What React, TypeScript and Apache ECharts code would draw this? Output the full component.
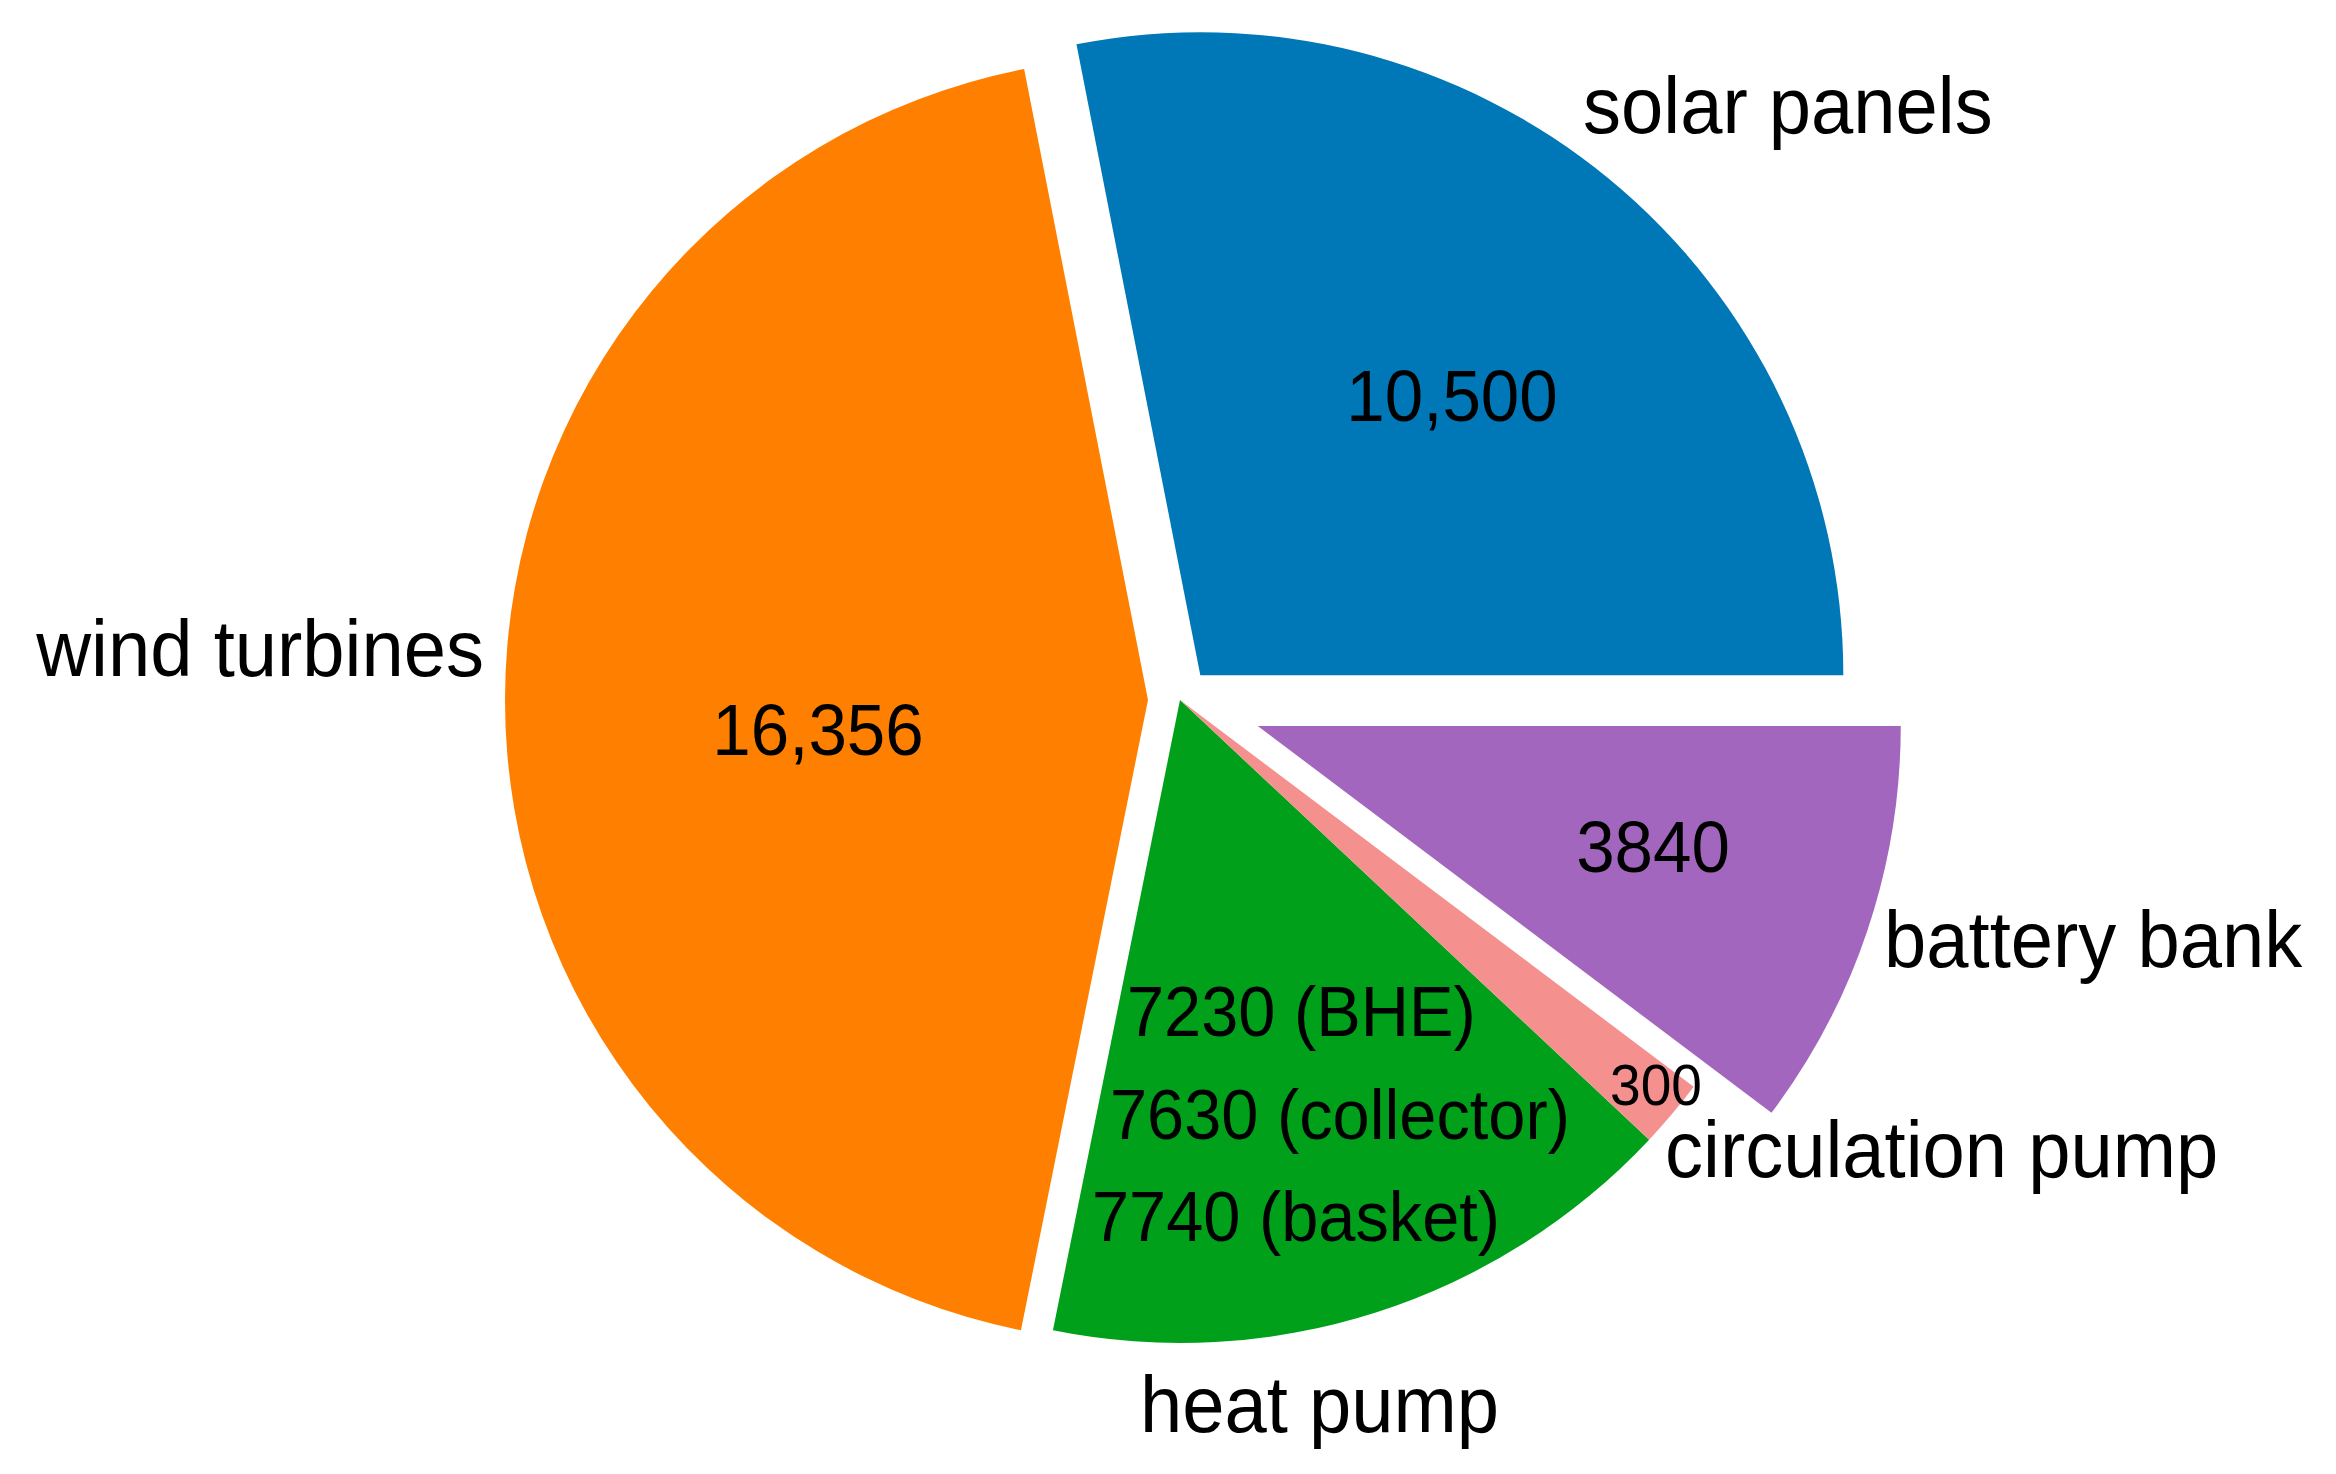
import React, { useEffect, useRef } from "react";
import * as echarts from "echarts";

// ---- data ----
const categories = ["solar panels", "wind turbines", "heat pump", "circulation pump", "battery bank"];
const sliceValues = [10500, 16356, 6050, 640, 3840];
// value texts printed inside the wedges
const valueLabels = ["10,500", "16,356", "", "300", "3840"];
const heatPumpVariants = ["7230 (BHE)", "7630 (collector)", "7740 (basket)"];

// ---- styles / layout ----
const colors = ["#0077b7", "#ff8000", "#00a01a", "#f4908e", "#a366be"];
const FONT = "'Liberation Sans', Arial, Helvetica, sans-serif";
const CENTER = [1180, 700];
const RADIUS = 643;
const explodeGroups = [
  { offset: 0, members: [2, 3] },
  { offset: 32, members: [0, 1] },
  { offset: 82, members: [4] },
];

// label placements (x, middle-y, align, font size, horizontal scale)
const NAME_SIZE = 80;
const NAME_SCALE = 0.95;
const namePos = [
  { x: 1583, y: 105, align: "left" },
  { x: 484, y: 648, align: "right" },
  { x: 1140, y: 1404, align: "left" },
  { x: 1665, y: 1149, align: "left" },
  { x: 1884, y: 939, align: "left" },
];
const valuePos = [
  { x: 1452, y: 396, align: "center", size: 72, sx: 0.96 },
  { x: 818, y: 730, align: "center", size: 72, sx: 0.96 },
  null,
  { x: 1656, y: 1085, align: "center", size: 58, sx: 0.95 },
  { x: 1653, y: 847, align: "center", size: 72, sx: 0.96 },
];
const heatPos = [
  { x: 1127, y: 1012 },
  { x: 1110, y: 1115 },
  { x: 1092, y: 1217 },
];

export default function App() {
  const ref = useRef<HTMLDivElement>(null);

  useEffect(() => {
    if (!ref.current) return;
    const chart = echarts.init(ref.current, undefined, { renderer: "svg" });

    const series = explodeGroups.map((g) => ({
      type: "pie",
      z: 2,
      center: CENTER,
      radius: RADIUS,
      startAngle: 0,
      clockwise: false,
      selectedMode: "multiple",
      selectedOffset: g.offset,
      silent: true,
      avoidLabelOverlap: false,
      label: { show: false },
      labelLine: { show: false },
      emphasis: { disabled: true },
      itemStyle: { borderWidth: 0 },
      data: categories.map((name, i) => {
        const on = g.members.includes(i);
        const c = on ? colors[i] : "rgba(0,0,0,0)";
        return {
          name,
          value: sliceValues[i],
          selected: on && g.offset > 0,
          itemStyle: { color: c, borderWidth: 0 },
          select: { itemStyle: { color: c, borderWidth: 0 } },
        };
      }),
    }));

    const mkText = (text: string, x: number, y: number, size: number, align: string, sx: number) => ({
      type: "text",
      x,
      y,
      scaleX: sx,
      z: 100,
      silent: true,
      style: {
        text,
        fill: "#000",
        font: `${size}px ${FONT}`,
        align,
        verticalAlign: "middle",
      },
    });

    const texts: any[] = [];
    categories.forEach((name, i) => {
      const p = namePos[i];
      texts.push(mkText(name, p.x, p.y, NAME_SIZE, p.align, NAME_SCALE));
      const v = valuePos[i];
      if (v && valueLabels[i]) {
        texts.push(mkText(valueLabels[i], v.x, v.y, v.size, v.align, v.sx));
      }
    });
    heatPumpVariants.forEach((t, k) => {
      texts.push(mkText(t, heatPos[k].x, heatPos[k].y, 71, "left", 0.94));
    });

    chart.setOption({
      animation: false,
      backgroundColor: "#ffffff",
      series,
      graphic: { elements: texts },
    } as any);

    return () => chart.dispose();
  }, []);

  return (
    <div
      ref={ref}
      style={{ position: "fixed", left: 0, top: 0, width: 2336, height: 1474, background: "#fff" }}
    />
  );
}
